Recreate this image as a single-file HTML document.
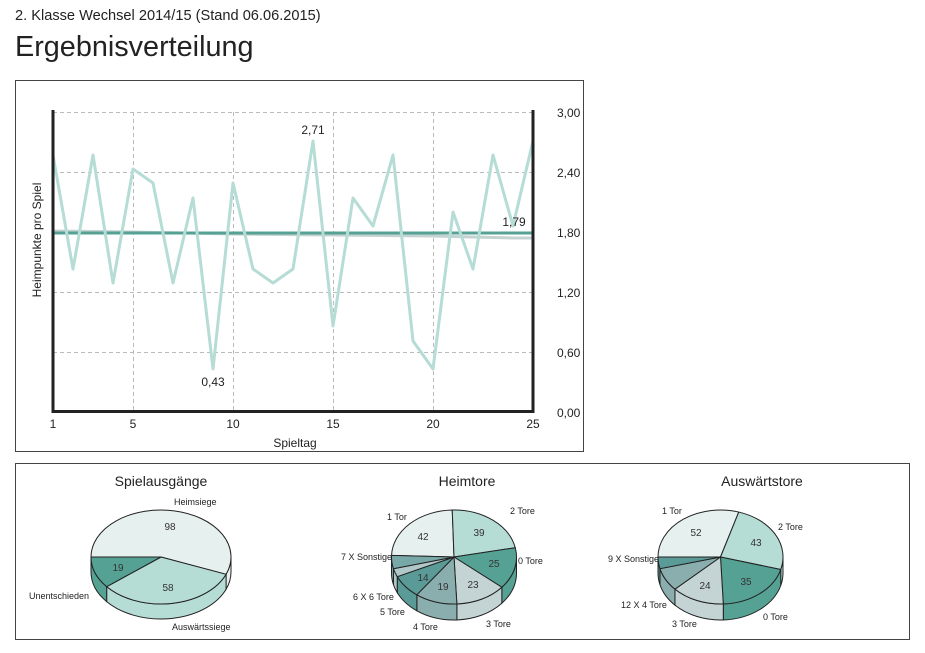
<!DOCTYPE html>
<html><head><meta charset="utf-8"><style>
body{margin:0;background:#fff;font-family:"Liberation Sans",Arial,sans-serif;color:#222}
</style></head><body>
<svg width="925" height="648" xmlns="http://www.w3.org/2000/svg" font-family="Liberation Sans, Arial, sans-serif">
<text x="15" y="20" font-size="14.6" fill="#222">2. Klasse Wechsel 2014/15 (Stand 06.06.2015)</text>
<text x="15" y="56" font-size="28.8" fill="#222">Ergebnisverteilung</text>
<rect x="15.5" y="80.5" width="568" height="371" fill="#fff" stroke="#444"/>
<rect x="15.5" y="463.5" width="894" height="176" fill="#fff" stroke="#444"/>
<g stroke="#bbb" stroke-dasharray="4,3" stroke-width="1">
<line x1="53" y1="112.5" x2="533" y2="112.5"/><line x1="53" y1="172.5" x2="533" y2="172.5"/>
<line x1="53" y1="292.5" x2="533" y2="292.5"/><line x1="53" y1="352.5" x2="533" y2="352.5"/>
<line x1="133.5" y1="112" x2="133.5" y2="412"/><line x1="233.5" y1="112" x2="233.5" y2="412"/>
<line x1="333.5" y1="112" x2="333.5" y2="412"/><line x1="433.5" y1="112" x2="433.5" y2="412"/>
</g>
<polyline fill="none" stroke="#c4d3d1" stroke-width="3" points="53,231 133,232 233,234 333,235 433,236 473,237 513,238 533,238"/>
<line x1="53" y1="233" x2="533" y2="233" stroke="#55a294" stroke-width="3"/>
<polyline id="ln" fill="none" stroke="#b5dcd5" stroke-width="3" stroke-linejoin="round"/>
<g stroke="#222" stroke-width="3"><line x1="53" y1="110" x2="53" y2="413"/><line x1="533" y1="110" x2="533" y2="413"/><line x1="52" y1="411.5" x2="534" y2="411.5"/></g>
<g font-size="12" fill="#222">
<text x="557" y="117">3,00</text><text x="557" y="177">2,40</text><text x="557" y="237">1,80</text><text x="557" y="297">1,20</text><text x="557" y="357">0,60</text><text x="557" y="417">0,00</text>
<g text-anchor="middle"><text x="53" y="428">1</text><text x="133" y="428">5</text><text x="233" y="428">10</text><text x="333" y="428">15</text><text x="433" y="428">20</text><text x="533" y="428">25</text>
<text x="295" y="447">Spieltag</text>
<text x="313" y="134">2,71</text><text x="213" y="386">0,43</text><text x="514" y="226">1,79</text>
<text transform="translate(41,240) rotate(-90)">Heimpunkte pro Spiel</text></g>
</g>
<g id="pies"></g>
<g font-size="14" fill="#222" text-anchor="middle"><text x="161" y="486">Spielausgänge</text><text x="467" y="486">Heimtore</text><text x="762" y="486">Auswärtstore</text></g>
<g font-size="9" fill="#222">
<text x="174" y="505">Heimsiege</text><text x="29" y="599">Unentschieden</text><text x="172" y="630">Auswärtssiege</text>
<text x="387" y="520">1 Tor</text><text x="510" y="514">2 Tore</text><text x="518" y="564">0 Tore</text><text x="341" y="560">7 X Sonstige</text><text x="353" y="600">6 X 6 Tore</text><text x="380" y="615">5 Tore</text><text x="413" y="630">4 Tore</text><text x="486" y="627">3 Tore</text>
<text x="662" y="514">1 Tor</text><text x="778" y="530">2 Tore</text><text x="608" y="562">9 X Sonstige</text><text x="621" y="608">12 X 4 Tore</text><text x="672" y="627">3 Tore</text><text x="763" y="620">0 Tore</text>
</g>
<g font-size="10" fill="#333" text-anchor="middle">
<text x="170" y="530">98</text><text x="118" y="571">19</text><text x="168" y="591">58</text>
<text x="423" y="540">42</text><text x="479" y="536">39</text><text x="494" y="567">25</text><text x="473" y="588">23</text><text x="443" y="590">19</text><text x="423" y="581">14</text>
<text x="696" y="536">52</text><text x="756" y="546">43</text><text x="746" y="585">35</text><text x="705" y="589">24</text>
</g>
</svg>
<script>
var v=[2.57,1.43,2.57,1.29,2.43,2.29,1.29,2.14,0.43,2.29,1.43,1.29,1.43,2.71,0.86,2.14,1.86,2.57,0.71,0.43,2.0,1.43,2.57,1.86,2.71];
document.getElementById('ln').setAttribute('points',v.map(function(y,i){return (53+20*i)+','+(412-100*y)}).join(' '));
var NS='http://www.w3.org/2000/svg',G=document.getElementById('pies');
function el(d,f){var p=document.createElementNS(NS,'path');p.setAttribute('d',d);p.setAttribute('fill',f);p.setAttribute('stroke','#222');p.setAttribute('stroke-width','1');G.appendChild(p);}
function pie(cx,cy,rx,ry,dp,start,sl){
 var tot=0;sl.forEach(function(s){tot+=s[0]});
 var a=start,arr=[];
 sl.forEach(function(s){var b=a+s[0]/tot*360;arr.push([a,b,s[1]]);a=b;});
 function P(t,dy){t=t*Math.PI/180;return (cx+rx*Math.cos(t)).toFixed(2)+','+(cy+ry*Math.sin(t)+(dy||0)).toFixed(2);}
 arr.forEach(function(s){
  [[s[0],s[1]],[s[0]-360,s[1]-360]].forEach(function(r){
   var a1=Math.max(r[0],0),a2=Math.min(r[1],180);
   if(a2>a1){var lg=(a2-a1)>180?1:0;
    el('M'+P(a1)+' A'+rx+','+ry+' 0 '+lg+' 1 '+P(a2)+' L'+P(a2,dp)+' A'+rx+','+ry+' 0 '+lg+' 0 '+P(a1,dp)+' Z',s[2]);}
  });
 });
 arr.forEach(function(s){var lg=(s[1]-s[0])>180?1:0;
  el('M'+cx+','+cy+' L'+P(s[0])+' A'+rx+','+ry+' 0 '+lg+' 1 '+P(s[1])+' Z',s[2]);});
}
pie(161,557,70,47,15,180,[[98,'#e6f0ee'],[58,'#b5dcd5'],[19,'#55a294']]);
pie(454,557,62.5,47,16,182,[[42,'#e6f0ee'],[39,'#b5dcd5'],[25,'#55a294'],[23,'#c4d3d4'],[19,'#8aaead'],[14,'#5a9a97'],[5,'#b0c8c8'],[8,'#79a8a8']]);
pie(720.5,557,62.5,47,16,180,[[52,'#e6f0ee'],[43,'#b5dcd5'],[35,'#55a294'],[24,'#c4d3d4'],[14,'#8aaead'],[7,'#5a9a97']]);
</script>
</body></html>
